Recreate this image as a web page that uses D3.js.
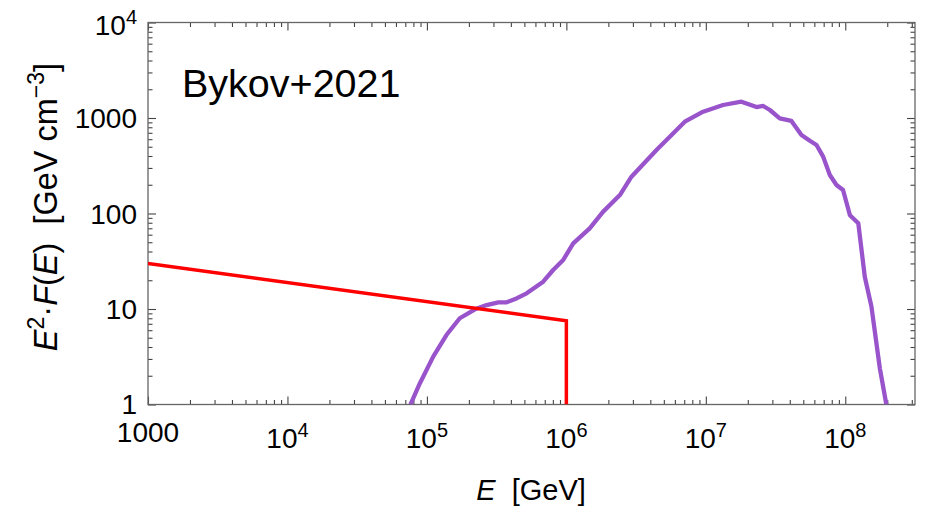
<!DOCTYPE html>
<html>
<head>
<meta charset="utf-8">
<script src="https://cdn.jsdelivr.net/npm/d3@7"></script>
<style>
  body { margin: 0; background: #fff; }
  svg text { font-family: "Liberation Sans", Arial, sans-serif; fill: #000; }
</style>
</head>
<body>
<svg id="chart" width="925" height="508"></svg>
<script>
// ---- data -------------------------------------------------------------
// Energy axis (GeV) tick values and labels (base, exponent)
const xMajorTicks = [1e3, 1e4, 1e5, 1e6, 1e7, 1e8];
const xTickLabels = [["1000", ""], ["10", "4"], ["10", "5"], ["10", "6"], ["10", "7"], ["10", "8"]];
// Flux axis tick values and labels
const yMajorTicks = [1, 10, 100, 1000, 1e4];
const yTickLabels = [["1", ""], ["10", ""], ["100", ""], ["1000", ""], ["10", "4"]];

// Power-law spectrum with a sharp cutoff at 1 PeV (red)
const powerLawE = [1e3, 1e6, 1e6];
const powerLawF = [30, 7.55, 1];

// Bykov+2021 spectrum (purple)
const bykovE = [7.62e4, 8.91e4, 1.11e5, 1.38e5, 1.72e5, 2.21e5, 2.68e5, 3.25e5, 3.73e5, 4.39e5,
  5.19e5, 6.82e5, 8.04e5, 9.49e5, 1.12e6, 1.47e6, 1.83e6, 2.42e6, 2.93e6, 4.43e6,
  5.68e6, 7.07e6, 9.57e6, 1.33e7, 1.80e7, 2.31e7, 2.58e7, 2.88e7, 3.39e7, 4.11e7,
  4.85e7, 5.57e7, 6.22e7, 6.94e7, 7.75e7, 8.65e7, 9.64e7, 1.08e8, 1.24e8, 1.38e8,
  1.54e8, 1.77e8, 1.97e8];
const bykovF = [1.0, 1.67, 3.17, 5.34, 8.0, 9.93, 11.0, 11.75, 11.75, 12.9,
  14.6, 19.3, 25.6, 32.6, 48.7, 70, 104, 156, 243, 462,
  664, 915, 1164, 1368, 1482, 1303, 1336, 1213, 993, 931,
  664, 578, 521, 394, 253, 199, 176, 96, 79, 21.8,
  10.6, 2.39, 1.0];

// ---- layout -----------------------------------------------------------
const svg = d3.select("#chart");
const plotLeft = 148, plotRight = 915, plotTop = 22.5, plotBottom = 404.5;

const x = d3.scaleLog().domain([1e3, Math.pow(10, 8.5)]).range([plotLeft, plotRight]);
const y = d3.scaleLog().domain([1, 1e4]).range([plotBottom, plotTop]);

function minorTicks(domain) {
  const out = [];
  const lo = Math.floor(Math.log10(domain[0]));
  const hi = Math.ceil(Math.log10(domain[1]));
  for (let d = lo; d < hi; d++) {
    for (let k = 2; k <= 9; k++) {
      const v = k * Math.pow(10, d);
      if (v > domain[0] && v < domain[1]) out.push(v);
    }
  }
  return out;
}
const xMinor = minorTicks(x.domain());
const yMinor = minorTicks(y.domain());

const tickColor = "#444";

function drawAxis(axisFn, scale, values, size, transform) {
  const g = svg.append("g")
    .attr("transform", transform)
    .call(axisFn(scale).tickValues(values).tickSize(size).tickFormat(""));
  g.select(".domain").remove();
  g.selectAll(".tick line").attr("stroke", tickColor).attr("stroke-width", 1.1);
  return g;
}

// inward ticks on all four sides
drawAxis(d3.axisBottom, x, xMajorTicks, -8, `translate(0,${plotBottom})`);
drawAxis(d3.axisBottom, x, xMinor, -4.5, `translate(0,${plotBottom})`);
drawAxis(d3.axisTop, x, xMajorTicks, -8, `translate(0,${plotTop})`);
drawAxis(d3.axisTop, x, xMinor, -4.5, `translate(0,${plotTop})`);
drawAxis(d3.axisLeft, y, yMajorTicks, -8, `translate(${plotLeft},0)`);
drawAxis(d3.axisLeft, y, yMinor, -4.5, `translate(${plotLeft},0)`);
drawAxis(d3.axisRight, y, yMajorTicks, -8, `translate(${plotRight},0)`);
drawAxis(d3.axisRight, y, yMinor, -4.5, `translate(${plotRight},0)`);

// frame
svg.append("rect")
  .attr("x", plotLeft).attr("y", plotTop)
  .attr("width", plotRight - plotLeft).attr("height", plotBottom - plotTop)
  .attr("fill", "none").attr("stroke", "#666").attr("stroke-width", 1.3);

// ---- tick labels ------------------------------------------------------
const labelSize = 28, supSize = 20;

xMajorTicks.forEach((v, i) => {
  const [base, exp] = xTickLabels[i];
  const t = svg.append("text")
    .attr("x", x(v))
    .attr("y", exp ? 448 : 442)
    .attr("text-anchor", "middle")
    .attr("font-size", labelSize);
  t.append("tspan").text(base);
  if (exp) t.append("tspan").attr("font-size", supSize).attr("dy", -11).text(exp);
});

yMajorTicks.forEach((v, i) => {
  const [base, exp] = yTickLabels[i];
  const t = svg.append("text")
    .attr("x", 137)
    .attr("y", y(v) + (exp ? 12 : (i === 0 ? 9 : 10)))
    .attr("text-anchor", "end")
    .attr("font-size", labelSize);
  t.append("tspan").text(base);
  if (exp) t.append("tspan").attr("font-size", supSize).attr("dy", -11).text(exp);
});

// ---- axis titles ------------------------------------------------------
const xt = svg.append("text")
  .attr("x", 531).attr("y", 500)
  .attr("text-anchor", "middle")
  .attr("font-size", 29)
  .attr("xml:space", "preserve");
xt.append("tspan").attr("font-style", "italic").text("E");
xt.append("tspan").text("  [GeV]");

const ySize = 32.5, ySup = 23;
const yt = svg.append("text")
  .attr("transform", "translate(57,207) rotate(-90)")
  .attr("text-anchor", "middle")
  .attr("font-size", ySize)
  .attr("xml:space", "preserve");
yt.append("tspan").attr("font-style", "italic").text("E");
yt.append("tspan").attr("font-size", ySup).attr("dy", -13).text("2");
yt.append("tspan").attr("dy", 13).text("\u00B7");
yt.append("tspan").attr("font-style", "italic").text("F");
yt.append("tspan").text("(");
yt.append("tspan").attr("font-style", "italic").text("E");
yt.append("tspan").text(")  [GeV cm");
yt.append("tspan").attr("font-size", ySup).attr("dy", -13).text("\u22123");
yt.append("tspan").attr("dy", 13).text("]");

// annotation
svg.append("text")
  .attr("x", 182).attr("y", 97)
  .attr("font-size", 39.5)
  .text("Bykov+2021");

// ---- curves -----------------------------------------------------------
svg.append("clipPath").attr("id", "plot-clip")
  .append("rect")
  .attr("x", plotLeft).attr("y", plotTop)
  .attr("width", plotRight - plotLeft).attr("height", plotBottom - plotTop);

const line = d3.line().x(d => x(d[0])).y(d => y(d[1]));
const curves = svg.append("g").attr("clip-path", "url(#plot-clip)");

curves.append("path")
  .datum(bykovE.map((e, i) => [e, bykovF[i]]))
  .attr("d", line)
  .attr("fill", "none")
  .attr("stroke", "#9954cc")
  .attr("stroke-width", 4.3)
  .attr("stroke-linejoin", "round");

curves.append("path")
  .datum(powerLawE.map((e, i) => [e, powerLawF[i]]))
  .attr("d", line)
  .attr("fill", "none")
  .attr("stroke", "#ff0000")
  .attr("stroke-width", 3.5);
</script>
</body>
</html>
